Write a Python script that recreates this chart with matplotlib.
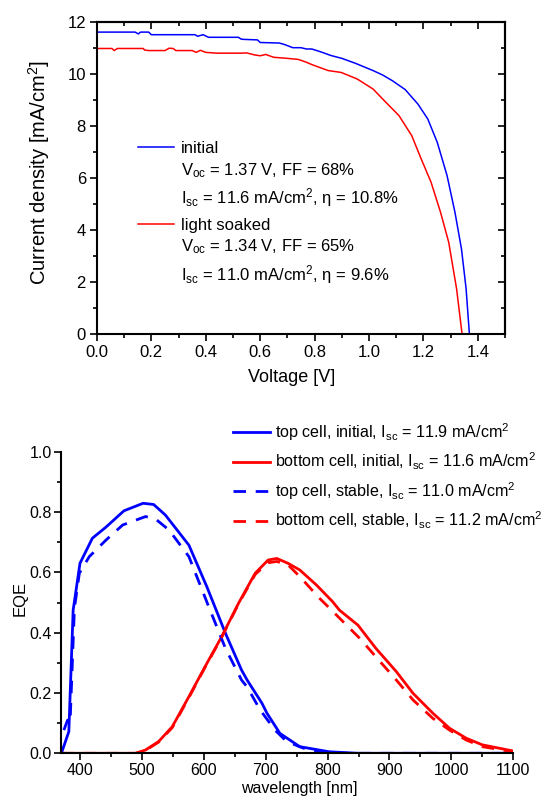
import matplotlib
matplotlib.use('Agg')
import matplotlib.pyplot as plt
from matplotlib.ticker import MultipleLocator, FormatStrFormatter, NullFormatter
from matplotlib.lines import Line2D

plt.rcParams['font.family'] = ['Liberation Sans', 'DejaVu Sans']
plt.rcParams['mathtext.fontset'] = 'custom'
plt.rcParams['mathtext.rm'] = 'Liberation Sans'
plt.rcParams['mathtext.it'] = 'Liberation Sans:italic'
plt.rcParams['mathtext.bf'] = 'Liberation Sans:bold'
plt.rcParams['mathtext.default'] = 'regular'

# ---------------- J-V data ----------------
v_initial = [0.00, 0.14, 0.152, 0.16, 0.19, 0.20, 0.36, 0.37, 0.39, 0.41, 0.52, 0.53, 0.54,
             0.59, 0.60, 0.67, 0.69, 0.72, 0.75, 0.77, 0.79, 0.82, 0.86, 0.90, 0.95, 1.015,
             1.05, 1.086, 1.133, 1.18, 1.216, 1.251, 1.287, 1.316, 1.34, 1.357, 1.369]
j_initial = [11.60, 11.60, 11.53, 11.60, 11.60, 11.50, 11.50, 11.44, 11.50, 11.40, 11.40, 11.33, 11.32,
             11.30, 11.20, 11.18, 11.12, 11.00, 11.00, 10.95, 10.95, 10.85, 10.70, 10.59, 10.40, 10.12,
             9.95, 9.73, 9.39, 8.83, 8.26, 7.36, 6.08, 4.67, 3.26, 1.73, 0.0]

v_soaked = [0.00, 0.055, 0.063, 0.075, 0.17, 0.175, 0.19, 0.25, 0.265, 0.28, 0.29, 0.35, 0.365,
            0.38, 0.40, 0.44, 0.53, 0.55, 0.58, 0.60, 0.62, 0.65, 0.70, 0.74, 0.77, 0.79, 0.85,
            0.897, 0.956, 1.015, 1.062, 1.11, 1.157, 1.192, 1.228, 1.263, 1.293, 1.322, 1.342]
j_soaked = [10.97, 10.97, 10.89, 10.97, 10.97, 10.91, 10.89, 10.89, 10.98, 10.97, 10.89, 10.89, 10.82,
            10.90, 10.82, 10.79, 10.79, 10.80, 10.72, 10.69, 10.74, 10.63, 10.59, 10.55, 10.44, 10.35, 10.12,
            10.05, 9.80, 9.41, 8.90, 8.39, 7.62, 6.72, 5.83, 4.67, 3.52, 1.73, 0.0]

jv_labels = ["initial", "light soaked"]
jv_info = [[r"V$_{oc}$ = 1.37 V, FF = 68%", r"I$_{sc}$ = 11.6 mA/cm$^2$, η = 10.8%"],
           [r"V$_{oc}$ = 1.34 V, FF = 65%", r"I$_{sc}$ = 11.0 mA/cm$^2$, η = 9.6%"]]

# ---------------- EQE data ----------------
wl_top_init = [370, 382, 389, 400, 420, 442, 471, 502, 519, 538, 576, 605, 635, 661, 670, 694, 702,
               723, 755, 803, 850, 900, 1000, 1100]
eqe_top_init = [0.0, 0.072, 0.475, 0.63, 0.713, 0.75, 0.804, 0.829, 0.825, 0.79, 0.69, 0.552, 0.398,
                0.276, 0.243, 0.166, 0.133, 0.066, 0.022, 0.005, 0.0, 0.0, 0.0, 0.0]

wl_top_stab = [374, 380, 384, 391, 399, 415, 442, 469, 506, 522, 544, 576, 608, 635, 661, 670, 691,
               715, 734, 761, 787, 820, 900, 1000, 1100]
eqe_top_stab = [0.077, 0.11, 0.10, 0.48, 0.597, 0.652, 0.707, 0.757, 0.785, 0.777, 0.74, 0.652, 0.486,
                0.348, 0.243, 0.22, 0.144, 0.077, 0.039, 0.017, 0.006, 0.0, 0.0, 0.0, 0.0]

wl_bot_init = [370, 490, 506, 527, 549, 576, 602, 629, 656, 683, 704, 718, 736, 755, 782, 808, 819,
               849, 878, 911, 938, 970, 997, 1024, 1050, 1077, 1099]
eqe_bot_init = [0.0, 0.0, 0.011, 0.039, 0.088, 0.188, 0.287, 0.387, 0.497, 0.597, 0.641, 0.646, 0.63,
                0.608, 0.558, 0.503, 0.475, 0.425, 0.348, 0.271, 0.199, 0.133, 0.083, 0.050, 0.028,
                0.017, 0.008]

wl_bot_stab = [370, 490, 506, 527, 549, 576, 602, 629, 656, 683, 704, 718, 736, 755, 787, 814, 836,
               852, 878, 911, 938, 970, 997, 1024, 1050, 1099]
eqe_bot_stab = [0.0, 0.0, 0.010, 0.037, 0.085, 0.185, 0.285, 0.385, 0.495, 0.593, 0.632, 0.636, 0.625,
                0.586, 0.514, 0.459, 0.414, 0.381, 0.32, 0.243, 0.177, 0.116, 0.077, 0.044, 0.022,
                0.005]

eqe_labels = [r"top cell, initial, I$_{sc}$ = 11.9 mA/cm$^2$",
              r"bottom cell, initial, I$_{sc}$ = 11.6 mA/cm$^2$",
              r"top cell, stable, I$_{sc}$ = 11.0 mA/cm$^2$",
              r"bottom cell, stable, I$_{sc}$ = 11.2 mA/cm$^2$"]

BLUE = '#0000ff'
RED = '#ff0000'
W, H = 542, 796


def fx(px):
    return px / W


def fy(py):
    return 1 - py / H


fig = plt.figure(figsize=(W / 100, H / 100), dpi=100)

# ================= top: J-V =================
ax1 = fig.add_axes([fx(97), fy(333.7), (505 - 97) / W, (333.7 - 21.7) / H])
ax1.plot(v_initial, j_initial, color=BLUE, lw=1.1)
ax1.plot(v_soaked, j_soaked, color=RED, lw=1.1)
ax1.set_xlim(0, 1.5)
ax1.set_ylim(0, 12)
ax1.xaxis.set_major_locator(MultipleLocator(0.2))
ax1.xaxis.set_minor_locator(MultipleLocator(0.1))
ax1.yaxis.set_major_locator(MultipleLocator(2))
ax1.yaxis.set_minor_locator(MultipleLocator(1))
ax1.xaxis.set_major_formatter(FormatStrFormatter('%.1f'))
ax1.tick_params(which='both', direction='out', width=1.2, labelsize=12, pad=3)
ax1.tick_params(which='major', length=5)
ax1.tick_params(which='minor', length=3)
for s in ax1.spines.values():
    s.set_linewidth(1.5)

sx = ax1.secondary_xaxis('top')
sx.xaxis.set_major_locator(MultipleLocator(0.2))
sx.xaxis.set_minor_locator(MultipleLocator(0.1))
sx.xaxis.set_major_formatter(NullFormatter())
sx.tick_params(which='both', direction='in', width=1.2)
sx.tick_params(which='major', length=5)
sx.tick_params(which='minor', length=3)
sx.spines['top'].set_linewidth(1.5)
sy = ax1.secondary_yaxis('right')
sy.yaxis.set_major_locator(MultipleLocator(2))
sy.yaxis.set_minor_locator(MultipleLocator(1))
sy.yaxis.set_major_formatter(NullFormatter())
sy.tick_params(which='both', direction='in', width=1.2)
sy.tick_params(which='major', length=5)
sy.tick_params(which='minor', length=3)
sy.spines['right'].set_linewidth(1.5)

ax1.set_xlabel("Voltage [V]", fontsize=13)
ax1.xaxis.set_label_coords(fx(292), fy(369), transform=fig.transFigure)
ax1.xaxis.label.set_va('top')
ax1.set_ylabel("Current density [mA/cm$^2$]", fontsize=14.5)
ax1.yaxis.set_label_coords(fx(52), fy(172), transform=fig.transFigure)

# legend block of J-V plot
for i, (lab, col) in enumerate(zip(jv_labels, [BLUE, RED])):
    base = [153.3, 230.0][i]
    fig.add_artist(Line2D([fx(138.3), fx(174)], [fy(base - 6), fy(base - 6)],
                          transform=fig.transFigure, color=col, lw=1.1))
    fig.text(fx(181), fy(base), lab, fontsize=12, va='baseline', ha='left')
    for k, line in enumerate(jv_info[i]):
        fig.text(fx(181), fy(base + 21.7 + 28.8 * k), line, fontsize=12,
                 va='baseline', ha='left')

# ================= bottom: EQE =================
ax2 = fig.add_axes([fx(61.4), fy(753.3), (513.3 - 61.4) / W, (753.3 - 451.7) / H])
l1, = ax2.plot(wl_top_init, eqe_top_init, color=BLUE, lw=2)
l2, = ax2.plot(wl_bot_init, eqe_bot_init, color=RED, lw=2)
l3, = ax2.plot(wl_top_stab, eqe_top_stab, color=BLUE, lw=2, dashes=(4.5, 3.5))
l4, = ax2.plot(wl_bot_stab, eqe_bot_stab, color=RED, lw=2, dashes=(4.5, 3.5))
ax2.set_xlim(370, 1100)
ax2.set_ylim(0, 1.0)
ax2.xaxis.set_major_locator(MultipleLocator(100))
ax2.xaxis.set_minor_locator(MultipleLocator(50))
ax2.yaxis.set_major_locator(MultipleLocator(0.2))
ax2.yaxis.set_minor_locator(MultipleLocator(0.1))
ax2.yaxis.set_major_formatter(FormatStrFormatter('%.1f'))
ax2.spines['top'].set_visible(False)
ax2.spines['right'].set_visible(False)
for s in ['left', 'bottom']:
    ax2.spines[s].set_linewidth(1.5)
ax2.tick_params(which='both', direction='out', width=1.2, labelsize=11.5, pad=2)
ax2.tick_params(which='major', length=5)
ax2.tick_params(which='minor', length=3)
ax2.set_xlabel("wavelength [nm]", fontsize=11.5)
ax2.xaxis.set_label_coords(fx(299), fy(781), transform=fig.transFigure)
ax2.xaxis.label.set_va('top')
ax2.set_ylabel("EQE", fontsize=12)
ax2.yaxis.set_label_coords(fx(28), fy(598), transform=fig.transFigure)

for k, (ln, lab) in enumerate(zip([l1, l2, l3, l4], eqe_labels)):
    base = 438.3 + 29.4 * k
    fig.add_artist(Line2D([fx(233.3), fx(270)], [fy(base - 6), fy(base - 6)],
                          transform=fig.transFigure, color=ln.get_color(), lw=2,
                          linestyle=ln.get_linestyle(), dashes=(4.5, 3.5) if k >= 2 else (None, None)))
    fig.text(fx(275), fy(base), lab, fontsize=11.6, va='baseline', ha='left')

fig.savefig('out.png', dpi=100)
